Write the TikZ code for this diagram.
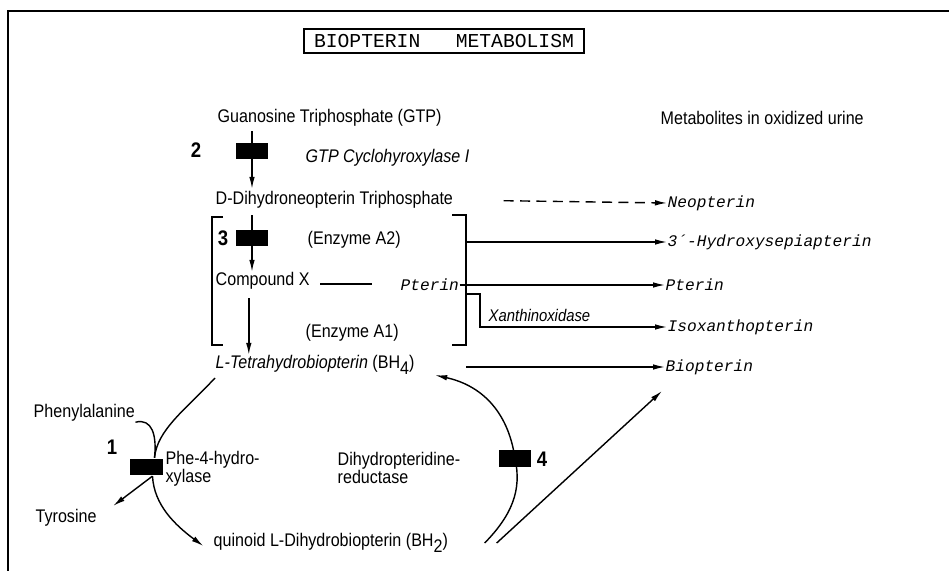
\documentclass[tikz,border=0pt]{standalone}
\usepackage{fontspec}
\setmainfont[FakeStretch=0.88]{Liberation Sans}
\setmonofont{Liberation Mono}
\usetikzlibrary{arrows.meta}

\begin{document}
\begin{tikzpicture}[x=0.025cm,y=-0.025cm,line width=1pt,
  lbl/.style={anchor=west,inner sep=0pt,align=left,font=\fontsize{13}{13}\selectfont},
  urine/.style={anchor=west,inner sep=0pt,font=\fontsize{11.5}{13}\selectfont\ttfamily\itshape},
  enz/.style={fill=black,minimum width=0.82cm,minimum height=0.42cm,inner sep=0pt},
  num/.style={inner sep=0pt,font=\fontsize{15}{15}\selectfont\bfseries},
  arr/.style={-{Latex[length=3mm,width=1.4mm]}}]
\useasboundingbox (0,0) rectangle (949,571);
\draw[line width=1.2pt] (8,571) -- (8,11) -- (949,11);
\node[draw,line width=1.2pt,inner sep=1pt,minimum width=7cm,minimum height=0.6cm,
  font=\fontsize{14}{14}\selectfont\ttfamily] (title) at (444,41) {BIOPTERIN\ \ \ METABOLISM};

% main chain
\node[lbl] (gtp) at (217,118) {Guanosine Triphosphate (GTP)};
\node[lbl] (metab) at (660,118) {Metabolites in oxidized urine};
\node[lbl,font=\fontsize{13}{13}\selectfont\itshape] (cyc) at (305,158) {GTP Cyclohyroxylase I};
\node[lbl] (dhnp) at (215,200) {D-Dihydroneopterin Triphosphate};
\node[lbl] (enzA2) at (307,240) {(Enzyme A2)};
\node[lbl] (cpx) at (215,281) {Compound X};
\node[urine] (pterinA) at (400,285) {Pterin};
\node[lbl] (enzA1) at (305,333) {(Enzyme A1)};
\node[lbl] (bh4) at (215,365) {\itshape L-Tetrahydrobiopterin \upshape(BH\raisebox{-0.6ex}{4})};

% urine metabolites
\node[urine] (neo) at (667,203) {Neopterin};
\node[urine] (hyd) at (667,242) {3´-Hydroxysepiapterin};
\node[urine] (pte) at (665,285) {Pterin};
\node[urine] (iso) at (667,327) {Isoxanthopterin};
\node[urine] (bio) at (665,367) {Biopterin};
\node[lbl,font=\fontsize{12}{13}\selectfont\itshape] (xan) at (488,315) {Xanthinoxidase};

% cycle
\node[lbl] (phe) at (33,413) {Phenylalanine};
\node[lbl] (phe4) at (165,469) {Phe-4-hydro-\\xylase};
\node[lbl] (tyr) at (35,518) {Tyrosine};
\node[lbl] (qbh2) at (213,543) {quinoid L-Dihydrobiopterin (BH\raisebox{-0.6ex}{2})};
\node[lbl] (dhpr) at (337,468) {Dihydropteridine-\\reductase};
\coordinate (bioup) at (662,391);

% enzymes
\node[enz] (e2) at (252,151) {};
\node[enz] (e3) at (252,238) {};
\node[enz] (e1) at (146.5,467) {};
\node[enz] (e4) at (515,458.5) {};
\node[num] (n2) at (196,150) {2};
\node[num] (n3) at (223,238) {3};
\node[num] (n1) at (112,447) {1};
\node[num] (n4) at (542,459) {4};

\draw[arr,shorten <=1mm,shorten >=0.5mm] (e2 |- gtp.south) -- (e2 |- dhnp.north);
\draw[arr,shorten <=1.5mm] (e3 |- dhnp.south) -- (e3 |- cpx.north);
\draw[arr,shorten <=2mm] ([xshift=-0.8mm]e3 |- cpx.south) -- ([xshift=-0.8mm]e3 |- bh4.north);
\draw (320,284) -- (372,284);

% bracket
\coordinate (bt) at (466,215);
\coordinate (bb) at (466,345);
\coordinate (xo) at (480,294);
\draw (223,217) -- (212,217) -- (212,345) -- (223,345);
\draw (452,215) -- (bt) -- (bb) -- (452,345);

\draw[arr,dash pattern=on 2.5mm off 1.6mm,shorten <=12.5mm] (dhnp.east) -- (neo.west);
\draw[arr] (bt |- hyd) -- (hyd.west);
\draw[arr] (pterinA.east) -- (pte.west);
\draw[arr] (bb |- xo) -- (xo) -- (xo |- iso) -- (iso.west);
\draw[arr] (bb |- bio) -- (bio.west);

\draw (215,378) .. controls (185,410) and (157,430) .. ([xshift=2mm]e1.north);
\draw (phe.south east) .. controls (152,418) and (157,435) .. ([xshift=2mm]e1.north);
\draw[arr,shorten >=5mm] ([xshift=1.5mm]e1.south) -- (tyr.east);
\draw[arr,shorten >=3mm] ([xshift=1.5mm]e1.south) .. controls (154,505) and (175,525) .. (qbh2.south west);
\draw[arr] ([xshift=9mm]qbh2.east) .. controls (512,515) and (522,490) .. (e4.center)
  .. controls (508,410) and (480,385) .. ([xshift=5mm]bh4.south east);
\draw[arr] ([xshift=12mm]qbh2.east) -- (bioup);
\end{tikzpicture}
\end{document}
